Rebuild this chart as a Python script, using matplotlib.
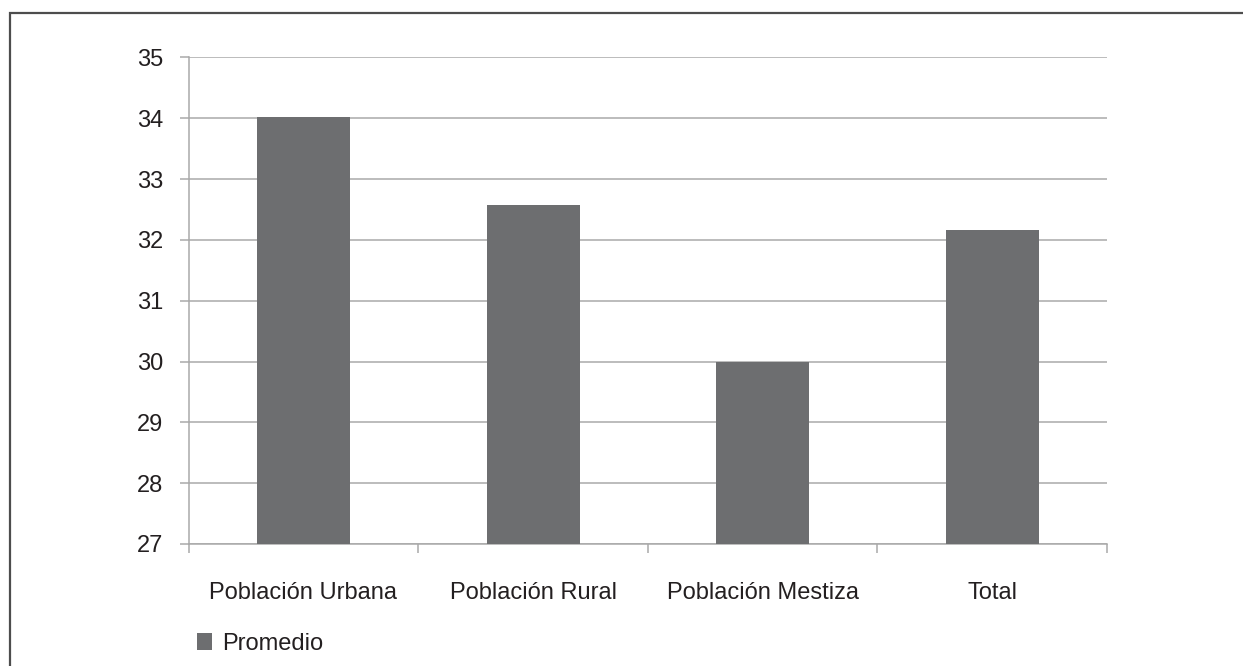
import matplotlib.pyplot as plt
from matplotlib.patches import Rectangle

categorias = ['Población Urbana', 'Población Rural', 'Población Mestiza', 'Total']
promedio = [34.02, 32.57, 30.0, 32.17]
yticks = [27, 28, 29, 30, 31, 32, 33, 34, 35]

plt.rcParams['font.family'] = ['Liberation Sans', 'DejaVu Sans']

color_barra = '#6d6e70'
color_grid = '#a9a9a9'
color_texto = '#231f20'

fig = plt.figure(figsize=(12.43, 6.66), dpi=100)
ax = fig.add_axes([0.1518, 0.1832, 0.7388, 0.7305])

x = range(len(categorias))
ax.bar(x, [v - yticks[0] for v in promedio], bottom=yticks[0], width=0.405,
       color=color_barra, label='Promedio', zorder=3)

ax.set_xlim(-0.5, len(categorias) - 0.5)
ax.set_ylim(yticks[0], yticks[-1])
ax.set_yticks(yticks)
ax.yaxis.grid(True, color=color_grid, linewidth=1.1, zorder=0)

ax.set_xticks(list(x))
ax.set_xticklabels(categorias, fontsize=17, color=color_texto)
ax.set_xticks([i - 0.5 for i in range(len(categorias) + 1)], minor=True)
ax.tick_params(axis='x', which='major', length=0, pad=27.5)
ax.tick_params(axis='x', which='minor', length=6.5, width=1.1, color=color_grid, direction='out')
ax.tick_params(axis='y', length=6.5, width=1.1, color=color_grid, direction='out',
               labelsize=17, labelcolor=color_texto, pad=12)

for s in ['top', 'right']:
    ax.spines[s].set_visible(False)
for s in ['left', 'bottom']:
    ax.spines[s].set_color(color_grid)
    ax.spines[s].set_linewidth(1.1)

ax.legend(loc='center left', bbox_to_anchor=(0.1585, 0.033), bbox_transform=fig.transFigure,
          frameon=False, fontsize=17, handlelength=0.65, handleheight=0.7,
          handletextpad=0.42, borderpad=0, borderaxespad=0, labelcolor=color_texto)

# marco exterior
fig.add_artist(Rectangle((10 / 1243, -0.1), 1.2, 1.1 - 12.7 / 666,
                         transform=fig.transFigure, fill=False,
                         edgecolor='#4d4d4d', linewidth=1.6))

fig.savefig('out.png', dpi=100)
